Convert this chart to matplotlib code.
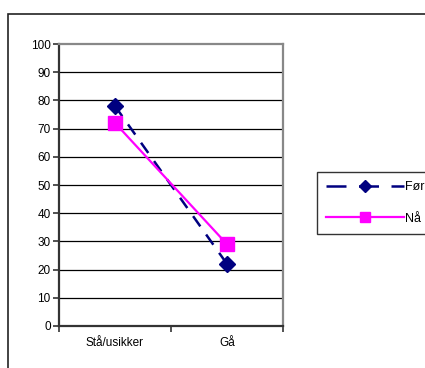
import matplotlib
matplotlib.use('Agg')
import matplotlib.pyplot as plt
from matplotlib.patches import Rectangle
from matplotlib.lines import Line2D

categories = ['Stå/usikker', 'Gå']
for_values = [78, 22]
na_values = [72, 29]
y_ticks = [0, 10, 20, 30, 40, 50, 60, 70, 80, 90, 100]

plt.rcParams['font.family'] = ['Liberation Sans', 'DejaVu Sans']

fig = plt.figure(figsize=(4.25, 3.68), dpi=100)

# ramme rundt hele diagrammet
fig.patches.append(Rectangle((8 / 425, -0.05), 1.0, 1 - 14 / 368 + 0.05,
                             transform=fig.transFigure, fill=False,
                             edgecolor='#222222', linewidth=1.2))

ax = fig.add_axes([59 / 425, 1 - 326 / 368, 224 / 425, 282 / 368])
xs = list(range(len(categories)))

ax.plot(xs, for_values, color='#000080', linewidth=1.8, dashes=(5, 4),
        marker='D', markersize=8, zorder=3)
ax.plot(xs, na_values, color='#FF00FF', linewidth=1.6,
        marker='s', markersize=10, zorder=4)

ax.set_xlim(-0.5, 1.5)
ax.set_ylim(0, 100)
ax.set_yticks(y_ticks)
ax.set_yticklabels([str(v) for v in y_ticks], fontsize=8.5)
ax.set_xticks([-0.5, 0.5, 1.5])
ax.set_xticklabels([])
ax.set_xticks(xs, minor=True)
ax.set_xticklabels(categories, minor=True, fontsize=8.5)
ax.tick_params(axis='x', which='minor', length=0, pad=8)
ax.tick_params(axis='x', which='major', length=4, width=1.2, color='#333333')
ax.tick_params(axis='y', length=4, width=1.2, color='#333333', pad=2)

for v in y_ticks[1:-1]:
    ax.axhline(v, color='black', linewidth=0.9, zorder=1)

ax.spines['left'].set_color('#333333')
ax.spines['bottom'].set_color('#333333')
ax.spines['left'].set_linewidth(1.6)
ax.spines['bottom'].set_linewidth(1.6)
ax.spines['top'].set_color('#888888')
ax.spines['right'].set_color('#888888')
ax.spines['top'].set_linewidth(1.6)
ax.spines['right'].set_linewidth(1.6)

# egne symboler i forklaringen, med lengre streker
handles = [
    Line2D([], [], color='#000080', linewidth=1.8, dashes=(8, 5),
           marker='D', markersize=6),
    Line2D([], [], color='#FF00FF', linewidth=1.6,
           marker='s', markersize=7.5),
]
leg = ax.legend(handles, ['Før', 'Nå'], loc='upper left',
                bbox_to_anchor=(317 / 425, 1 - 172 / 368),
                bbox_transform=fig.transFigure, fontsize=9, frameon=True,
                fancybox=False, handlelength=6.2, handletextpad=0.1,
                borderpad=0.75, labelspacing=1.55, borderaxespad=0)
leg.get_frame().set_edgecolor('black')
leg.get_frame().set_linewidth(1.0)

plt.savefig('out.png', dpi=100)
plt.close()
